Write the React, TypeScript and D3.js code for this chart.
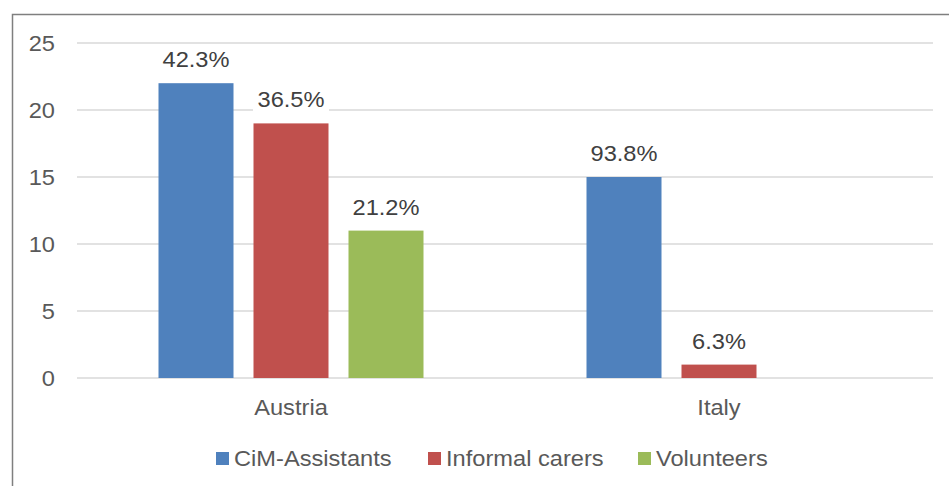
import React, { useEffect, useRef } from "react";
import * as d3 from "d3";

const categories = ["Austria", "Italy"];
const seriesNames = ["CiM-Assistants", "Informal carers", "Volunteers"];
const seriesColors = ["#4f81bd", "#c0504d", "#9bbb59"];
const austriaValues = [22, 19, 11];
const italyValues = [15, 1, 0];
const austriaLabels = ["42.3%", "36.5%", "21.2%"];
const italyLabels = ["93.8%", "6.3%", ""];
const yTicks = [0, 5, 10, 15, 20, 25];

// the source picture is a little wider than tall, so text gets stretched
const SX = 1.075;
const at = (x: number, y: number) => `translate(${x},${y}) scale(${SX},1)`;

function App() {
  const ref = useRef<SVGSVGElement>(null);

  useEffect(() => {
    const svg = d3.select(ref.current);
    svg.selectAll("*").remove();

    const font = "'Liberation Sans', Arial, sans-serif";
    const textColor = "#595959";
    const fs = 22;

    const rows = [
      { cat: categories[0], values: austriaValues, labels: austriaLabels },
      { cat: categories[1], values: italyValues, labels: italyLabels },
    ];

    // outer chart border, runs off the right and bottom edges
    svg
      .append("rect")
      .attr("x", 12.5)
      .attr("y", 14.5)
      .attr("width", 960)
      .attr("height", 500)
      .attr("fill", "none")
      .attr("stroke", "#7f7f7f")
      .attr("stroke-width", 1.5);

    const x0 = d3.scaleBand().domain(categories).range([77, 933]);
    const pad = (x0.bandwidth() - 265) / 2;
    const x1 = d3
      .scaleBand()
      .domain(seriesNames)
      .range([pad, x0.bandwidth() - pad])
      .paddingInner(20 / 95);
    const y = d3.scaleLinear().domain([0, 25]).range([378, 43]);

    svg
      .append("g")
      .selectAll("line")
      .data(yTicks)
      .enter()
      .append("line")
      .attr("x1", 77)
      .attr("x2", 933)
      .attr("y1", (d) => y(d))
      .attr("y2", (d) => y(d))
      .attr("stroke", "#d9d9d9")
      .attr("stroke-width", 1.5);

    svg
      .append("g")
      .selectAll("text")
      .data(yTicks)
      .enter()
      .append("text")
      .attr("transform", (d) => at(55, y(d)))
      .attr("dy", "0.35em")
      .attr("text-anchor", "end")
      .attr("font-family", font)
      .attr("font-size", fs)
      .attr("fill", textColor)
      .text((d) => d);

    const groups = svg
      .append("g")
      .selectAll("g")
      .data(rows)
      .enter()
      .append("g")
      .attr("transform", (d) => `translate(${x0(d.cat)},0)`);

    const items = (d: any) =>
      seriesNames.map((s, i) => ({ s, i, v: d.values[i], label: d.labels[i] }));

    groups
      .selectAll("rect")
      .data(items)
      .enter()
      .filter((d) => d.v > 0)
      .append("rect")
      .attr("x", (d) => x1(d.s)!)
      .attr("y", (d) => y(d.v))
      .attr("width", x1.bandwidth())
      .attr("height", (d) => y(0) - y(d.v))
      .attr("fill", (d) => seriesColors[d.i]);

    const lbl = groups
      .selectAll("g.lbl")
      .data(items)
      .enter()
      .filter((d) => d.label !== "")
      .append("g")
      .attr("class", "lbl");

    lbl
      .append("rect")
      .attr("x", (d) => x1(d.s)! + x1.bandwidth() / 2 - 38)
      .attr("y", (d) => y(d.v) - 38)
      .attr("width", 76)
      .attr("height", 30)
      .attr("fill", "#fff");

    lbl
      .append("text")
      .attr("transform", (d) => at(x1(d.s)! + x1.bandwidth() / 2, y(d.v) - 16))
      .attr("text-anchor", "middle")
      .attr("font-family", font)
      .attr("font-size", fs)
      .attr("fill", "#404040")
      .text((d) => d.label);

    svg
      .append("g")
      .selectAll("text")
      .data(categories)
      .enter()
      .append("text")
      .attr("transform", (d) => at(x0(d)! + x0.bandwidth() / 2, 415))
      .attr("text-anchor", "middle")
      .attr("font-family", font)
      .attr("font-size", fs)
      .attr("fill", textColor)
      .text((d) => d);

    // legend
    const legendX = [216, 428, 638];
    const leg = svg
      .append("g")
      .selectAll("g")
      .data(seriesNames)
      .enter()
      .append("g")
      .attr("transform", (d, i) => `translate(${legendX[i]},0)`);
    leg
      .append("rect")
      .attr("x", 0)
      .attr("y", 452)
      .attr("width", 13)
      .attr("height", 13)
      .attr("fill", (d, i) => seriesColors[i]);
    leg
      .append("text")
      .attr("transform", at(18, 466))
      .attr("font-family", font)
      .attr("font-size", fs)
      .attr("fill", textColor)
      .text((d) => d);
  }, []);

  return (
    <svg
      ref={ref}
      width={949}
      height={486}
      style={{ position: "absolute", left: 0, top: 0, background: "#fff" }}
    />
  );
}

export default App;
